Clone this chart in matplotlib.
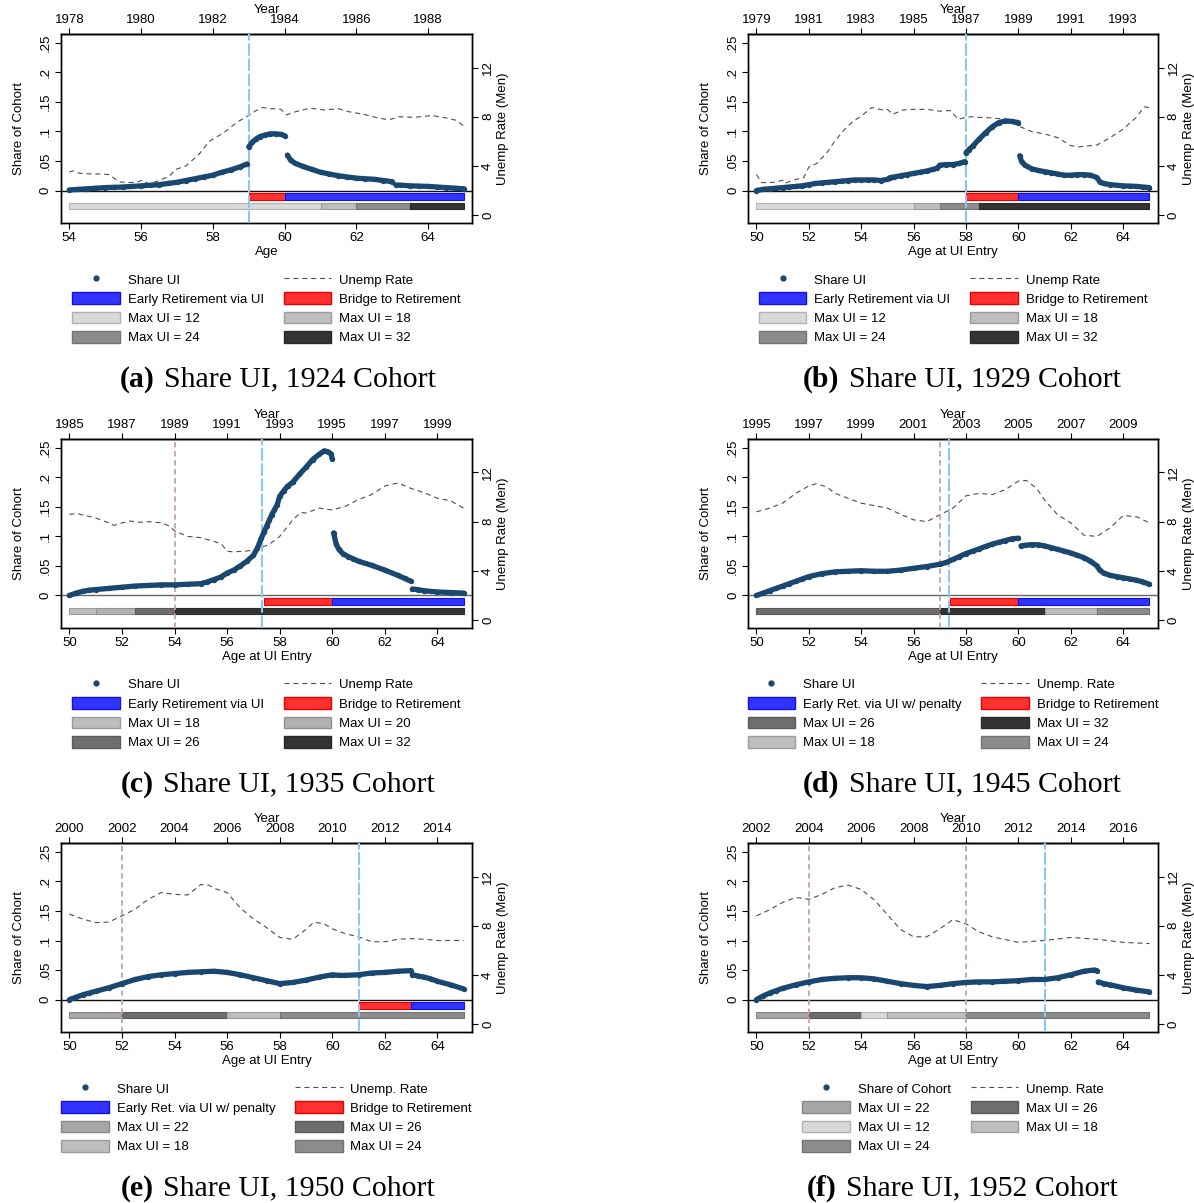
import matplotlib
matplotlib.use('Agg')
import matplotlib.pyplot as plt
import numpy as np
from matplotlib.colors import to_rgb
from matplotlib.lines import Line2D
from matplotlib.patches import Patch
from matplotlib.offsetbox import TextArea, HPacker, AnnotationBbox

plt.rcParams['font.family'] = 'Liberation Sans'
plt.rcParams['font.size'] = 9.5
plt.rcParams['axes.linewidth'] = 1.0

NAVY = '#1a476f'
RED, RED_EDGE = '#ff3030', '#e60000'
BLUE, BLUE_EDGE = '#3333ff', '#1010ee'
VLINE_BLUE = '#8cc7ec'
VLINE_BROWN = '#c9a39b'
UI_GRAYS = {12: '#d9d9d9', 18: '#bebebe', 20: '#b1b1b1', 22: '#a6a6a6',
            24: '#8c8c8c', 26: '#6e6e6e', 32: '#333333'}

# ---------------- (a) 1924 cohort ----------------
share_age_a = [54.0, 54.25, 54.5, 54.75, 55.0, 55.25, 55.5, 55.75, 56.0, 56.25, 56.5, 56.75, 57.0,
               57.25, 57.5, 57.75, 58.0, 58.25, 58.5, 58.75, 58.95, 59.0, 59.1, 59.2, 59.3, 59.45,
               59.6, 59.75, 59.9, 60.0, 60.08, 60.17, 60.3, 60.5, 60.75, 61.0, 61.25, 61.5, 61.75,
               62.0, 62.25, 62.5, 62.75, 63.0, 63.1, 63.25, 63.5, 63.75, 64.0, 64.25, 64.5, 64.75, 65.0]
share_a = [0.001, 0.002, 0.003, 0.004, 0.005, 0.0055, 0.006, 0.007, 0.008, 0.009, 0.010, 0.012, 0.014,
           0.017, 0.020, 0.023, 0.026, 0.031, 0.035, 0.040, 0.045, 0.074, 0.082, 0.087, 0.091, 0.094,
           0.096, 0.096, 0.095, 0.093, 0.060, 0.051, 0.046, 0.041, 0.036, 0.031, 0.028, 0.025, 0.023,
           0.021, 0.020, 0.019, 0.017, 0.015, 0.0095, 0.009, 0.008, 0.0075, 0.007, 0.006, 0.005, 0.004, 0.003]
jumps_a = [58.98, 60.04, 63.05]
unemp_age_a = [54.0, 54.1, 54.3, 54.6, 54.9, 55.1, 55.4, 55.7, 55.9, 56.05, 56.2, 56.5, 56.8, 56.95,
               57.25, 57.6, 57.9, 58.3, 58.7, 59.0, 59.2, 59.4, 59.6, 59.8, 59.9, 60.05, 60.3, 60.7,
               61.1, 61.5, 61.8, 62.2, 62.6, 62.9, 63.2, 63.6, 64.1, 64.5, 64.8, 65.0]
unemp_a = [3.5, 3.6, 3.4, 3.35, 3.35, 3.3, 2.7, 2.65, 2.7, 2.85, 2.55, 2.8, 3.2, 3.7, 4.0, 4.9, 6.0,
           6.7, 7.6, 8.1, 8.5, 8.75, 8.65, 8.65, 8.6, 8.15, 8.4, 8.7, 8.55, 8.65, 8.4, 8.2, 7.9, 7.75,
           8.0, 7.95, 8.1, 7.9, 7.7, 7.2]
bridge_a, early_a = (59.0, 60.0), (60.0, 65.0)
ui_a = [(54, 61, 12), (61, 62, 18), (62, 63.5, 24), (63.5, 65, 32)]

# ---------------- (b) 1929 cohort ----------------
share_age_b = [50.0, 50.25, 50.5, 50.75, 51.0, 51.25, 51.5, 51.75, 52.0, 52.25, 52.5, 52.75, 53.0,
               53.25, 53.5, 53.75, 54.0, 54.25, 54.5, 54.75, 55.0, 55.1, 55.25, 55.5, 55.75, 56.0,
               56.25, 56.5, 56.75, 56.9, 57.0, 57.25, 57.5, 57.75, 57.95, 58.0, 58.1, 58.25, 58.5,
               58.75, 59.0, 59.25, 59.5, 59.75, 60.0, 60.05, 60.12, 60.25, 60.5, 60.75, 61.0, 61.25,
               61.5, 61.75, 62.0, 62.25, 62.5, 62.75, 63.0, 63.1, 63.25, 63.5, 63.75, 64.0, 64.25,
               64.5, 64.75, 65.0]
share_b = [0.000, 0.002, 0.003, 0.004, 0.005, 0.006, 0.007, 0.008, 0.010, 0.012, 0.013, 0.014, 0.015,
           0.016, 0.017, 0.018, 0.018, 0.018, 0.018, 0.017, 0.019, 0.022, 0.023, 0.025, 0.027, 0.029,
           0.031, 0.033, 0.036, 0.038, 0.043, 0.044, 0.044, 0.046, 0.049, 0.064, 0.069, 0.075, 0.087,
           0.098, 0.108, 0.115, 0.118, 0.117, 0.115, 0.059, 0.049, 0.043, 0.037, 0.034, 0.032, 0.030,
           0.028, 0.026, 0.026, 0.027, 0.027, 0.026, 0.022, 0.015, 0.012, 0.010, 0.009, 0.008, 0.0075,
           0.007, 0.006, 0.005]
jumps_b = [57.98, 60.02]
unemp_age_b = [50.0, 50.2, 50.5, 50.8, 51.0, 51.1, 51.5, 51.8, 52.0, 52.3, 52.7, 53.0, 53.4, 53.7,
               54.0, 54.4, 54.8, 55.0, 55.2, 55.6, 56.0, 56.5, 57.0, 57.4, 57.7, 58.0, 58.2, 58.5,
               59.0, 59.5, 60.0, 60.5, 61.0, 61.5, 62.0, 62.3, 63.0, 63.5, 64.0, 64.5, 64.8, 65.0]
unemp_b = [3.3, 2.65, 2.65, 2.7, 2.85, 2.6, 2.9, 3.05, 3.9, 4.2, 5.1, 6.05, 7.05, 7.65, 8.05, 8.75,
           8.55, 8.6, 8.2, 8.55, 8.6, 8.6, 8.45, 8.5, 7.8, 7.95, 8.0, 7.95, 7.9, 7.8, 7.25, 6.8, 6.6,
           6.3, 5.65, 5.55, 5.7, 6.3, 7.0, 7.95, 8.8, 8.75]
bridge_b, early_b = (58.0, 60.0), (60.0, 65.0)
ui_b = [(50, 56, 12), (56, 57, 18), (57, 58.5, 24), (58.5, 65, 32)]

# ---------------- (c) 1935 cohort ----------------
share_age_c = [50.0, 50.25, 50.5, 50.75, 51.0, 51.5, 52.0, 52.5, 53.0, 53.5, 54.0, 54.5, 55.0, 55.25,
               55.5, 55.75, 56.0, 56.25, 56.5, 56.75, 57.0, 57.15, 57.3, 57.4, 57.5, 57.6, 57.7, 57.8,
               57.9, 58.0, 58.15, 58.3, 58.5, 58.75, 59.0, 59.25, 59.5, 59.7, 59.85, 59.95, 60.0,
               60.05, 60.15, 60.25, 60.4, 60.6, 60.8, 61.0, 61.5, 62.0, 62.5, 62.75, 63.0, 63.05,
               63.25, 63.5, 64.0, 64.5, 65.0]
share_c = [0.000, 0.004, 0.007, 0.009, 0.010, 0.012, 0.014, 0.016, 0.017, 0.018, 0.018, 0.019, 0.020,
           0.023, 0.027, 0.031, 0.038, 0.043, 0.050, 0.058, 0.068, 0.080, 0.097, 0.107, 0.117, 0.127,
           0.137, 0.145, 0.153, 0.168, 0.177, 0.185, 0.192, 0.205, 0.217, 0.230, 0.239, 0.245, 0.243,
           0.240, 0.231, 0.106, 0.087, 0.078, 0.071, 0.066, 0.062, 0.058, 0.051, 0.043, 0.034, 0.029,
           0.024, 0.011, 0.010, 0.008, 0.006, 0.005, 0.004]
jumps_c = [60.02, 63.02]
unemp_age_c = [50.0, 50.3, 50.7, 51.0, 51.5, 51.7, 52.0, 52.3, 52.7, 53.0, 53.5, 53.8, 54.0, 54.5,
               55.0, 55.5, 55.8, 56.0, 56.2, 56.7, 57.0, 57.3, 57.6, 58.0, 58.5, 58.8, 59.0, 59.5,
               60.0, 60.5, 61.0, 61.5, 62.0, 62.5, 63.0, 63.5, 64.0, 64.5, 65.0]
unemp_c = [8.6, 8.65, 8.45, 8.3, 7.9, 7.7, 7.9, 8.05, 7.95, 8.0, 7.9, 7.65, 7.25, 6.8, 6.7, 6.4, 6.15,
           5.6, 5.55, 5.6, 5.7, 5.9, 6.15, 6.8, 8.15, 8.75, 8.7, 9.1, 8.95, 9.25, 9.8, 10.2, 10.9,
           11.15, 10.7, 10.35, 9.9, 9.7, 9.1]
bridge_c, early_c = (57.4, 60.0), (60.0, 65.0)
ui_c = [(50, 51, 18), (51, 52.5, 20), (52.5, 54, 26), (54, 65, 32)]

# ---------------- (d) 1945 cohort ----------------
share_age_d = [50.0, 50.25, 50.5, 50.75, 51.0, 51.25, 51.5, 51.75, 52.0, 52.5, 53.0, 53.5, 54.0, 54.5,
               55.0, 55.5, 56.0, 56.5, 57.0, 57.25, 57.5, 57.75, 58.0, 58.25, 58.5, 58.75, 59.0,
               59.25, 59.5, 59.75, 60.0, 60.1, 60.25, 60.5, 60.75, 61.0, 61.25, 61.5, 61.75, 62.0,
               62.25, 62.5, 62.75, 63.0, 63.1, 63.25, 63.5, 63.75, 64.0, 64.25, 64.5, 64.75, 65.0]
share_d = [0.000, 0.004, 0.008, 0.012, 0.016, 0.020, 0.024, 0.028, 0.032, 0.037, 0.040, 0.041, 0.042,
           0.041, 0.041, 0.043, 0.046, 0.049, 0.053, 0.056, 0.061, 0.066, 0.071, 0.075, 0.079, 0.083,
           0.087, 0.090, 0.093, 0.096, 0.097, 0.084, 0.085, 0.086, 0.086, 0.084, 0.081, 0.078, 0.075,
           0.072, 0.068, 0.064, 0.058, 0.050, 0.043, 0.038, 0.034, 0.032, 0.030, 0.028, 0.026, 0.023, 0.019]
jumps_d = [60.05]
unemp_age_d = [50.0, 50.5, 51.0, 51.5, 52.0, 52.3, 52.7, 53.0, 53.5, 54.0, 54.5, 55.0, 55.5, 56.0,
               56.5, 57.0, 57.5, 58.0, 58.5, 59.0, 59.5, 60.0, 60.3, 60.7, 61.0, 61.5, 62.0, 62.5,
               63.0, 63.5, 64.0, 64.5, 65.0]
unemp_d = [8.8, 9.1, 9.5, 10.3, 10.9, 11.1, 10.8, 10.3, 9.9, 9.5, 9.3, 9.1, 8.6, 8.15, 8.0, 8.55, 9.1,
           10.1, 10.3, 10.2, 10.6, 11.3, 11.35, 10.7, 9.75, 8.55, 7.9, 6.9, 6.8, 7.5, 8.5, 8.4, 7.9]
bridge_d, early_d = (57.4, 60.0), (60.0, 65.0)
ui_d = [(50, 57, 26), (57, 61, 32), (61, 63, 18), (63, 65, 24)]

# ---------------- (e) 1950 cohort ----------------
share_age_e = [50.0, 50.25, 50.5, 50.75, 51.0, 51.5, 52.0, 52.5, 53.0, 53.5, 54.0, 54.5, 55.0, 55.5,
               56.0, 56.5, 57.0, 57.5, 58.0, 58.5, 59.0, 59.5, 60.0, 60.25, 60.5, 61.0, 61.5, 62.0,
               62.5, 63.0, 63.05, 63.25, 63.5, 63.75, 64.0, 64.5, 65.0]
share_e = [0.000, 0.004, 0.008, 0.011, 0.014, 0.020, 0.027, 0.034, 0.039, 0.042, 0.044, 0.046, 0.047,
           0.048, 0.046, 0.042, 0.037, 0.032, 0.027, 0.029, 0.033, 0.038, 0.042, 0.041, 0.041, 0.042,
           0.045, 0.046, 0.048, 0.049, 0.042, 0.040, 0.038, 0.035, 0.031, 0.025, 0.018]
jumps_e = [63.02]
unemp_age_e = [50.0, 50.5, 51.0, 51.5, 52.0, 52.5, 53.0, 53.5, 54.0, 54.5, 55.0, 55.3, 55.5, 56.0,
               56.5, 57.0, 57.5, 58.0, 58.5, 59.0, 59.3, 59.7, 60.0, 60.5, 61.0, 61.5, 62.0, 62.5,
               63.0, 63.5, 64.0, 65.0]
unemp_e = [8.95, 8.55, 8.25, 8.3, 8.8, 9.35, 10.15, 10.7, 10.55, 10.5, 11.35, 11.3, 11.05, 10.7, 9.45,
           8.55, 7.85, 7.05, 6.9, 7.7, 8.3, 8.15, 7.75, 7.35, 7.1, 6.7, 6.7, 6.9, 6.95, 6.9, 6.8, 6.8]
bridge_e, early_e = (61.0, 63.0), (63.0, 65.0)
ui_e = [(50, 52, 22), (52, 56, 26), (56, 58, 18), (58, 65, 24)]

# ---------------- (f) 1952 cohort ----------------
share_age_f = [50.0, 50.25, 50.5, 50.75, 51.0, 51.5, 52.0, 52.5, 53.0, 53.5, 54.0, 54.5, 55.0, 55.5,
               56.0, 56.5, 57.0, 57.5, 58.0, 58.5, 59.0, 59.5, 60.0, 60.5, 61.0, 61.5, 62.0, 62.5,
               62.9, 63.0, 63.05, 63.25, 63.5, 64.0, 64.5, 65.0]
share_f = [0.000, 0.006, 0.011, 0.015, 0.019, 0.025, 0.030, 0.034, 0.036, 0.037, 0.037, 0.035, 0.031,
           0.027, 0.024, 0.022, 0.024, 0.027, 0.029, 0.030, 0.030, 0.031, 0.032, 0.034, 0.034, 0.037,
           0.042, 0.048, 0.050, 0.049, 0.030, 0.027, 0.025, 0.020, 0.016, 0.013]
jumps_f = [63.02]
unemp_age_f = [50.0, 50.5, 51.0, 51.5, 52.0, 52.5, 53.0, 53.5, 54.0, 54.5, 55.0, 55.5, 56.0, 56.5,
               57.0, 57.5, 58.0, 58.5, 59.0, 60.0, 61.0, 62.0, 63.0, 64.0, 65.0]
unemp_f = [8.8, 9.3, 9.9, 10.3, 10.15, 10.55, 11.1, 11.3, 10.95, 10.1, 8.9, 7.7, 7.1, 7.1, 7.75, 8.5,
           8.15, 7.5, 7.1, 6.65, 6.8, 7.05, 6.9, 6.65, 6.55]
ui_f = [(50, 52, 22), (52, 54, 26), (54, 55, 12), (55, 58, 18), (58, 65, 24)]

panels = [
    dict(tag='(a)', title='Share UI, 1924 Cohort', cohort=1924, xlim=(53.77, 65.23), xlabel='Age',
         age_ticks=range(54, 65, 2), year_ticks=range(1978, 1989, 2),
         s_age=share_age_a, s_val=share_a, jumps=jumps_a, u_age=unemp_age_a, u_val=unemp_a,
         bridge=bridge_a, early=early_a, ui=ui_a, blue=[59.0], brown=[], zero='#111111',
         share_label='Share UI', unemp_label='Unemp Rate', early_label='Early Retirement via UI'),
    dict(tag='(b)', title='Share UI, 1929 Cohort', cohort=1929, xlim=(49.68, 65.33), xlabel='Age at UI Entry',
         age_ticks=range(50, 65, 2), year_ticks=range(1979, 1994, 2),
         s_age=share_age_b, s_val=share_b, jumps=jumps_b, u_age=unemp_age_b, u_val=unemp_b,
         bridge=bridge_b, early=early_b, ui=ui_b, blue=[58.0], brown=[], zero='#111111',
         share_label='Share UI', unemp_label='Unemp Rate', early_label='Early Retirement via UI'),
    dict(tag='(c)', title='Share UI, 1935 Cohort', cohort=1935, xlim=(49.68, 65.33), xlabel='Age at UI Entry',
         age_ticks=range(50, 65, 2), year_ticks=range(1985, 2000, 2),
         s_age=share_age_c, s_val=share_c, jumps=jumps_c, u_age=unemp_age_c, u_val=unemp_c,
         bridge=bridge_c, early=early_c, ui=ui_c, blue=[57.33], brown=[54.0], zero='#666666',
         share_label='Share UI', unemp_label='Unemp Rate', early_label='Early Retirement via UI'),
    dict(tag='(d)', title='Share UI, 1945 Cohort', cohort=1945, xlim=(49.68, 65.33), xlabel='Age at UI Entry',
         age_ticks=range(50, 65, 2), year_ticks=range(1995, 2010, 2),
         s_age=share_age_d, s_val=share_d, jumps=jumps_d, u_age=unemp_age_d, u_val=unemp_d,
         bridge=bridge_d, early=early_d, ui=ui_d, blue=[57.36], brown=[57.0], zero='#666666',
         share_label='Share UI', unemp_label='Unemp. Rate', early_label='Early Ret. via UI w/ penalty'),
    dict(tag='(e)', title='Share UI, 1950 Cohort', cohort=1950, xlim=(49.68, 65.33), xlabel='Age at UI Entry',
         age_ticks=range(50, 65, 2), year_ticks=range(2000, 2015, 2),
         s_age=share_age_e, s_val=share_e, jumps=jumps_e, u_age=unemp_age_e, u_val=unemp_e,
         bridge=bridge_e, early=early_e, ui=ui_e, blue=[61.0], brown=[52.0], zero='#111111',
         share_label='Share UI', unemp_label='Unemp. Rate', early_label='Early Ret. via UI w/ penalty'),
    dict(tag='(f)', title='Share UI, 1952 Cohort', cohort=1952, xlim=(49.68, 65.33), xlabel='Age at UI Entry',
         age_ticks=range(50, 65, 2), year_ticks=range(2002, 2017, 2),
         s_age=share_age_f, s_val=share_f, jumps=jumps_f, u_age=unemp_age_f, u_val=unemp_f,
         bridge=None, early=None, ui=ui_f, blue=[61.0], brown=[52.0, 58.0], zero='#111111',
         share_label='Share of Cohort', unemp_label='Unemp. Rate', early_label=''),
]


def darker(c, f=0.82):
    return tuple(np.array(to_rgb(c)) * f)


def draw_panel(ax, p):
    ax.set_xlim(*p['xlim'])
    ax.set_ylim(-0.055, 0.265)

    # unemployment rate on the right axis, drawn underneath
    ax2 = ax.twinx()
    ax2.set_ylim(-0.64, 14.72)
    ax2.plot(p['u_age'], p['u_val'], color='#4d4d4d', lw=0.8, dashes=(4.5, 3.5))
    ax.set_zorder(ax2.get_zorder() + 1)
    ax.patch.set_visible(False)

    ax.axhline(0, color=p['zero'], lw=1.0, zorder=2)

    # policy bars
    if p['early']:
        for (a0, a1), fc, ec in [(p['bridge'], RED, RED_EDGE), (p['early'], BLUE, BLUE_EDGE)]:
            ax.barh(-0.0102, a1 - a0, left=a0, height=0.012, color=fc, edgecolor=ec, lw=0.8, zorder=2)
    for a0, a1, m in p['ui']:
        ax.barh(-0.0262, a1 - a0, left=a0, height=0.011, color=UI_GRAYS[m],
                edgecolor=darker(UI_GRAYS[m]), lw=0.8, zorder=2)

    for x in p['brown']:
        ax.axvline(x, color=VLINE_BROWN, lw=1.3, dashes=(3, 2), zorder=3)
    for x in p['blue']:
        ax.axvline(x, color=VLINE_BLUE, lw=1.5, dashes=(6, 1.3), zorder=3)

    # share series, broken at the discontinuities
    s_age = np.array(p['s_age'])
    s_val = np.array(p['s_val'])
    idx = np.searchsorted(s_age, p['jumps'])
    for xs, ys in zip(np.split(s_age, idx), np.split(s_val, idx)):
        ax.plot(xs, ys, color=NAVY, lw=3.8, marker='o', ms=3.9, mew=0,
                solid_capstyle='round', solid_joinstyle='round', zorder=4)

    # axes, ticks, labels
    ax.set_xticks(list(p['age_ticks']))
    ax.set_xlabel(p['xlabel'], labelpad=1.5)
    ax.set_yticks([0, .05, .1, .15, .2, .25])
    ax.set_yticklabels(['0', '.05', '.1', '.15', '.2', '.25'], rotation=90, va='center')
    ax.set_ylabel('Share of Cohort', labelpad=11)
    ax.tick_params(direction='out', length=4, pad=2.5)
    ax2.set_yticks([0, 4, 8, 12])
    ax2.set_yticklabels(['0', '4', '8', '12'], rotation=90, va='center')
    ax2.set_ylabel('Unemp Rate (Men)', labelpad=2)
    ax2.tick_params(direction='out', length=4, pad=3)

    c = p['cohort']
    sec = ax.secondary_xaxis('top', functions=(lambda a, c=c: a + c, lambda y, c=c: y - c))
    sec.set_xticks(list(p['year_ticks']))
    sec.set_xlabel('Year', labelpad=1)
    sec.tick_params(direction='out', length=4, pad=1.5)

    # legend, filled row by row like the original
    handles = [Line2D([], [], ls='none', marker='o', ms=3.5, color=NAVY),
               Line2D([], [], color='#4d4d4d', lw=0.8, dashes=(4.5, 3.5))]
    labels = [p['share_label'], p['unemp_label']]
    if p['early']:
        handles += [Patch(fc=BLUE, ec=BLUE_EDGE), Patch(fc=RED, ec=RED_EDGE)]
        labels += [p['early_label'], 'Bridge to Retirement']
    for a0, a1, m in p['ui']:
        handles.append(Patch(fc=UI_GRAYS[m], ec=darker(UI_GRAYS[m])))
        labels.append(f'Max UI = {m}')
    order = list(range(0, len(handles), 2)) + list(range(1, len(handles), 2))
    ax.legend([handles[i] for i in order], [labels[i] for i in order], ncol=2,
              loc='upper center', bbox_to_anchor=(0.5, -0.265), frameon=False, fontsize=9.5,
              handlelength=3.6, handleheight=1.0, handletextpad=0.6, columnspacing=1.5,
              labelspacing=0.44, borderpad=0, borderaxespad=0)


fig = plt.figure(figsize=(11.94, 12.03), dpi=100)
col_x = [(0.0511, 0.3445), (0.6265, 0.3434)]
row_y = [0.8146, 0.4780, 0.1421]
cap_y = [1 - 379 / 1203, 1 - 784 / 1203, 1 - 1188 / 1203]
cap_x = [278 / 1194, 962 / 1194]
cap_font = dict(family='Liberation Serif', size=21.5)

for i, p in enumerate(panels):
    r, cidx = divmod(i, 2)
    x0, w = col_x[cidx]
    ax = fig.add_axes([x0, row_y[r], w, 0.1571])
    draw_panel(ax, p)
    box = HPacker(children=[TextArea(p['tag'], textprops=dict(fontweight='bold', **cap_font)),
                            TextArea(p['title'], textprops=cap_font)],
                  sep=7, align='baseline', pad=0)
    fig.add_artist(AnnotationBbox(box, (cap_x[cidx], cap_y[r]), xycoords='figure fraction',
                                  frameon=False, box_alignment=(0.5, 0.5)))

fig.savefig('out.png', dpi=100)
